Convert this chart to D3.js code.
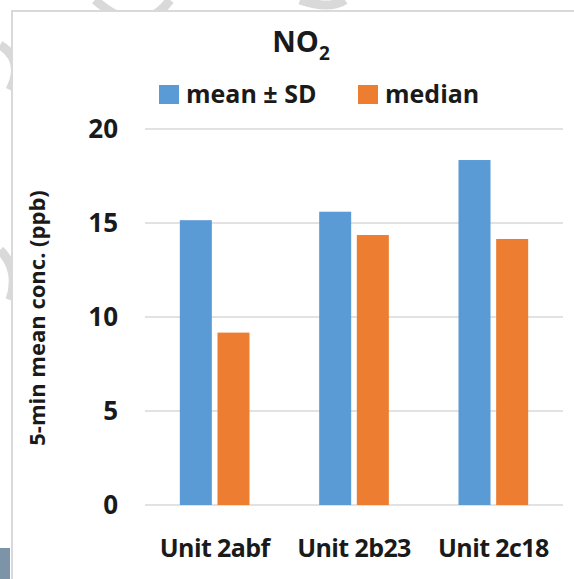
<!DOCTYPE html>
<html><head><meta charset="utf-8">
<script src="https://cdn.jsdelivr.net/npm/d3@7"></script>
<style>body{margin:0;background:#fff}svg{display:block;font-family:"Open Sans",sans-serif;font-weight:700}</style>
</head><body><svg id="chart" width="574" height="579"></svg>
<script>
const categories = ['Unit 2abf', 'Unit 2b23', 'Unit 2c18'];
const seriesNames = ['mean ± SD', 'median'];
const meanValues = [15.15, 15.6, 18.35];
const medianValues = [9.17, 14.36, 14.15];
const yTicks = [0, 5, 10, 15, 20];
const colors = ['#5b9bd5', '#ed7d31'];

const svg = d3.select('#chart');
const margin = { top: 129, right: 11, bottom: 74, left: 145 };
const W = 574, H = 579;
const iW = W - margin.left - margin.right, iH = H - margin.top - margin.bottom;

// faint background decoration
const deco = svg.append('g').attr('fill', 'none').attr('stroke', '#d9d9d9').attr('stroke-width', 9);
deco.append('path').attr('d', 'M95,0 Q140,40 170,0');
deco.append('path').attr('d', 'M300,0 Q330,10 345,0');
deco.append('path').attr('d', 'M0,45 Q25,60 10,90');
deco.append('path').attr('d', 'M0,250 Q20,270 10,300');
svg.append('rect').attr('x', 0).attr('y', 548).attr('width', 10).attr('height', 31).attr('fill', '#7d93a8');

// frame
svg.append('path').attr('d', 'M12,579 V11 H574').attr('fill', 'none').attr('stroke', '#d9d9d9').attr('stroke-width', 2);
svg.append('rect').attr('x', 13).attr('y', 12).attr('width', 561).attr('height', 567).attr('fill', '#fff');

const g = svg.append('g').attr('transform', `translate(${margin.left},${margin.top})`);
const y = d3.scaleLinear().domain([0, 20]).range([iH, 0]);
const x0 = d3.scaleBand().domain(categories).range([0, iW]).paddingInner(0.5).paddingOuter(0.25);
const x1 = d3.scaleBand().domain(seriesNames).range([0, x0.bandwidth()]).paddingInner(0.15);

yTicks.forEach(t => {
  g.append('line').attr('x1', 0).attr('x2', iW).attr('y1', y(t)).attr('y2', y(t))
    .attr('stroke', '#d9d9d9').attr('stroke-width', 1.5);
  g.append('text').attr('x', -27).attr('y', y(t)).attr('dy', '0.36em').attr('text-anchor', 'end')
    .attr('font-size', 26).attr('fill', '#1a1a1a').text(t);
});

const data = [meanValues, medianValues];
categories.forEach((c, i) => {
  seriesNames.forEach((s, j) => {
    g.append('rect').attr('x', x0(c) + x1(s)).attr('width', x1.bandwidth())
      .attr('y', y(data[j][i])).attr('height', y(0) - y(data[j][i])).attr('fill', colors[j]);
  });
  g.append('text').attr('x', x0(c) + x0.bandwidth() / 2).attr('y', iH + 52).attr('text-anchor', 'middle')
    .attr('font-size', 25).attr('letter-spacing', -0.6).attr('fill', '#1a1a1a').text(c);
});

// title
const title = svg.append('text').attr('x', 301).attr('y', 52).attr('text-anchor', 'middle')
  .attr('font-size', 29).attr('fill', '#1a1a1a');
title.append('tspan').text('NO');
title.append('tspan').attr('font-size', 19).attr('dy', 8).text('2');

// legend
const legend = [{ x: 159, n: seriesNames[0] }, { x: 358, n: seriesNames[1] }];
legend.forEach((l, j) => {
  svg.append('rect').attr('x', l.x).attr('y', 85).attr('width', 20).attr('height', 19).attr('fill', colors[j]);
  svg.append('text').attr('x', l.x + 27).attr('y', 103).attr('font-size', 25).attr('fill', '#1a1a1a').text(l.n);
});

// y label
svg.append('text').attr('transform', 'translate(45,318) rotate(-90)').attr('text-anchor', 'middle')
  .attr('font-size', 22).attr('fill', '#1a1a1a').text('5-min mean conc. (ppb)');
</script></body></html>
